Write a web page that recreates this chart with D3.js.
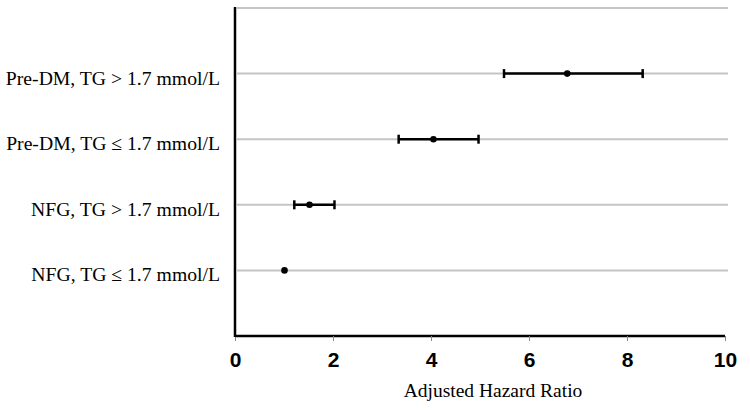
<!DOCTYPE html>
<html>
<head>
<meta charset="utf-8">
<script src="https://cdn.jsdelivr.net/npm/d3@7"></script>
<style>
  body { margin: 0; background: #fff; }
  svg { display: block; }
</style>
</head>
<body>
<div id="chart"></div>
<script>
// groupes, du haut vers le bas
const categories = [
  "Pre-DM, TG > 1.7 mmol/L",
  "Pre-DM, TG \u2264 1.7 mmol/L",
  "NFG, TG > 1.7 mmol/L",
  "NFG, TG \u2264 1.7 mmol/L"
];
const hr = [6.78, 4.05, 1.52, 1.01];
const ciLow = [5.49, 3.34, 1.21, null];
const ciHigh = [8.32, 4.97, 2.03, null];
const xTicks = [0, 2, 4, 6, 8, 10];

const width = 750, height = 413;
const margin = { top: 8, right: 25, bottom: 77, left: 235 };

const svg = d3.select("#chart").append("svg")
  .attr("width", width)
  .attr("height", height);

const x = d3.scaleLinear().domain([0, 10]).range([margin.left, width - margin.right]);
// position 1..4 depuis le bas, 5 = ligne du haut
const y = d3.scaleLinear().domain([0, 5]).range([height - margin.bottom, margin.top]);
const rowPos = i => categories.length - i;

// lignes de grille
svg.append("g")
  .selectAll("line")
  .data(d3.range(1, 6))
  .enter().append("line")
  .attr("x1", x(0) + 2)
  .attr("x2", x(10) + 3)
  .attr("y1", d => y(d))
  .attr("y2", d => y(d))
  .attr("stroke", "#c4c4c4")
  .attr("stroke-width", 2);

// axe X
const xAxis = svg.append("g")
  .attr("transform", `translate(0,${y(0)})`)
  .call(d3.axisBottom(x).tickValues(xTicks).tickSize(5).tickPadding(11));
xAxis.select(".domain").attr("stroke", "#000").attr("stroke-width", 2.5)
  .attr("d", `M${x(0)},0H${x(10)}`);
xAxis.selectAll(".tick line").attr("stroke", "#888").attr("stroke-width", 1);
xAxis.selectAll(".tick text")
  .style("font-family", "Liberation Sans, Arial, sans-serif")
  .style("font-size", "21px")
  .style("font-weight", "bold")
  .attr("fill", "#000");

// axe Y
svg.append("line")
  .attr("x1", x(0)).attr("x2", x(0))
  .attr("y1", y(5) - 1).attr("y2", y(0) + 1)
  .attr("stroke", "#000")
  .attr("stroke-width", 2.5);

// étiquettes des catégories
svg.append("g")
  .selectAll("text")
  .data(categories)
  .enter().append("text")
  .attr("x", margin.left - 15)
  .attr("y", (d, i) => y(rowPos(i)) + 11)
  .attr("text-anchor", "end")
  .style("font-family", "Liberation Serif, Times New Roman, serif")
  .style("font-size", "19.7px")
  .attr("fill", "#000")
  .text(d => d);

// intervalles de confiance
const rows = categories.map((c, i) => ({ c, i, hr: hr[i], lo: ciLow[i], hi: ciHigh[i] }));
const withCI = rows.filter(d => d.lo != null);

svg.append("g")
  .selectAll("line")
  .data(withCI)
  .enter().append("line")
  .attr("x1", d => x(d.lo))
  .attr("x2", d => x(d.hi))
  .attr("y1", d => y(rowPos(d.i)))
  .attr("y2", d => y(rowPos(d.i)))
  .attr("stroke", "#000")
  .attr("stroke-width", 2.5);

const caps = withCI.flatMap(d => [{ v: d.lo, i: d.i }, { v: d.hi, i: d.i }]);
svg.append("g")
  .selectAll("line")
  .data(caps)
  .enter().append("line")
  .attr("x1", d => x(d.v))
  .attr("x2", d => x(d.v))
  .attr("y1", d => y(rowPos(d.i)) - 4.5)
  .attr("y2", d => y(rowPos(d.i)) + 4.5)
  .attr("stroke", "#000")
  .attr("stroke-width", 2.5);

// points
svg.append("g")
  .selectAll("circle")
  .data(rows)
  .enter().append("circle")
  .attr("cx", d => x(d.hr))
  .attr("cy", d => y(rowPos(d.i)))
  .attr("r", 3.3)
  .attr("fill", "#000");

// titre de l'axe X
svg.append("text")
  .attr("x", 493)
  .attr("y", 397)
  .attr("text-anchor", "middle")
  .style("font-family", "Liberation Serif, Times New Roman, serif")
  .style("font-size", "19.5px")
  .attr("fill", "#000")
  .text("Adjusted Hazard Ratio");
</script>
</body>
</html>
